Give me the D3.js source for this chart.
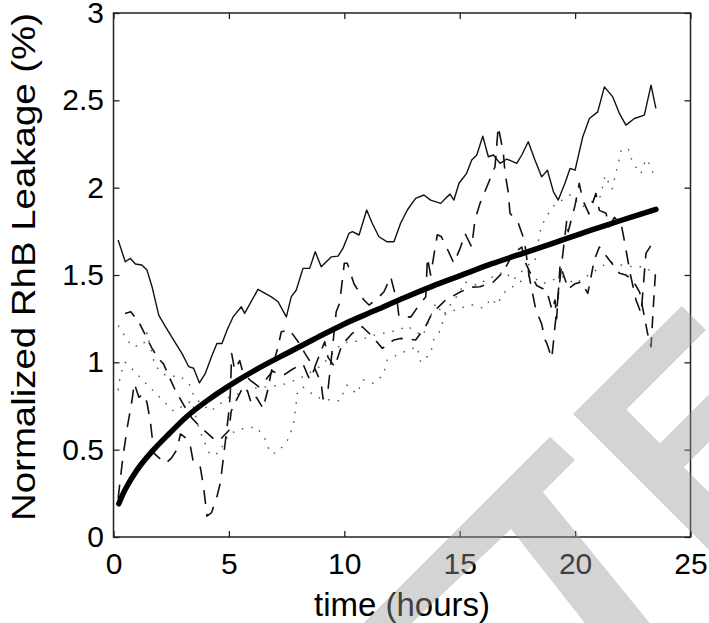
<!DOCTYPE html>
<html>
<head>
<meta charset="utf-8">
<script src="https://cdn.jsdelivr.net/npm/d3@7"></script>
<style>
  body { margin: 0; background: #fff; }
  svg text { font-family: "Liberation Sans", Arial, Helvetica, sans-serif; fill: #000; }
</style>
</head>
<body>
<svg id="chart" width="709" height="623"></svg>
<script>
// time (hours) and leakage (%), one run per array
var solidRun = [[0.2,1.70],[0.51,1.576],[0.73,1.595],[0.95,1.563],[1.23,1.557],[1.45,1.528],[1.67,1.433],[1.96,1.27],[2.25,1.204],[2.6,1.128],[2.97,1.05],[3.26,0.975],[3.47,0.966],[3.72,0.883],[3.98,0.937],[4.27,1.04],[4.48,1.108],[4.7,1.108],[4.92,1.185],[5.18,1.26],[5.54,1.318],[5.68,1.28],[6.26,1.418],[6.84,1.375],[7.13,1.347],[7.49,1.26],[7.7,1.375],[7.92,1.414],[8.21,1.538],[8.5,1.538],[8.74,1.633],[9.0,1.547],[9.44,1.604],[9.73,1.608],[9.94,1.652],[10.2,1.738],[10.35,1.748],[10.64,1.729],[10.97,1.872],[11.21,1.796],[11.5,1.719],[11.86,1.69],[12.15,1.69],[12.44,1.796],[12.73,1.872],[13.09,1.939],[13.45,1.958],[13.74,1.929],[14.18,1.91],[14.39,1.939],[14.58,1.963],[14.75,1.929],[14.97,2.025],[15.3,2.082],[15.52,2.158],[15.74,2.187],[16.0,2.295],[16.24,2.177],[16.46,2.187],[16.75,2.139],[17.04,2.164],[17.47,2.139],[17.69,2.187],[17.97,2.263],[18.26,2.158],[18.55,2.062],[18.8,2.1],[19.06,1.977],[19.27,1.929],[19.56,2.025],[19.78,2.11],[20.0,2.1],[20.33,2.29],[20.62,2.396],[20.98,2.434],[21.27,2.577],[21.63,2.52],[21.92,2.425],[22.2,2.358],[22.57,2.396],[23.0,2.415],[23.29,2.587],[23.5,2.454]];

var dashedRunA = [[0.2,0.22],[0.4,0.45],[0.6,0.63],[0.8,0.78],[0.9,0.88],[1.1,0.8],[1.3,0.82],[1.45,0.77],[1.6,0.66],[1.75,0.48],[2.0,0.45],[2.24,0.42],[2.5,0.45],[2.75,0.5],[2.9,0.59],[3.1,0.57],[3.33,0.52],[3.47,0.42],[3.76,0.4],[3.9,0.29],[4.05,0.12],[4.25,0.14],[4.48,0.23],[4.63,0.31],[4.85,0.55],[5.0,0.72],[5.06,0.82],[5.12,1.05],[5.25,0.956],[5.47,1.01],[5.6,0.946],[5.9,0.9],[6.3,0.86],[6.6,0.9],[6.9,0.95],[7.3,0.92],[7.7,0.956],[8.2,0.994],[8.5,0.9],[8.72,0.966],[9.0,0.88],[9.08,0.79],[9.3,0.85],[9.44,1.023],[9.65,1.29],[9.8,1.34],[10.0,1.567],[10.13,1.567],[10.42,1.45],[10.85,1.357],[11.07,1.328],[11.4,1.36],[11.72,1.404],[12.01,1.49],[12.3,1.338],[12.37,1.26],[12.88,1.26],[13.2,1.32],[13.53,1.375],[13.6,1.6],[13.74,1.5],[14.03,1.73],[14.2,1.72],[14.39,1.67],[14.75,1.567],[15.04,1.66],[15.23,1.738],[15.52,1.66],[15.66,1.815],[15.88,1.91],[16.24,2.025],[16.53,2.12],[16.67,2.35],[16.89,2.2],[16.96,2.09],[17.1,1.977],[17.18,1.853],[17.54,1.796],[17.8,1.7],[18.0,1.5],[18.3,1.3],[18.55,1.22],[18.7,1.128],[18.77,1.11],[18.99,1.023],[19.2,1.3],[19.45,1.6],[19.64,1.815],[19.7,1.748],[20.0,1.9],[20.18,2.025],[20.33,1.93],[20.6,1.85],[20.9,1.967],[21.05,1.87],[21.34,1.853],[21.48,1.776],[21.7,1.83],[21.99,1.796],[22.13,1.7],[22.4,1.5],[22.64,1.357],[22.86,1.28],[23.07,1.624],[23.43,1.7]];

var dashedRunB = [[0.5,1.28],[0.75,1.29],[1.1,1.23],[1.4,1.15],[1.67,1.08],[1.9,1.03],[2.17,0.99],[2.4,0.92],[2.68,0.84],[3.04,0.756],[3.4,0.68],[3.76,0.63],[4.1,0.59],[4.4,0.555],[4.6,0.555],[5.0,0.61],[5.1,0.72],[5.25,0.765],[5.54,0.84],[5.75,0.86],[5.97,0.765],[6.19,0.8],[6.48,0.737],[6.7,0.85],[6.84,0.95],[7.13,1.09],[7.27,1.175],[7.63,1.185],[8.0,1.118],[8.3,1.05],[8.7,0.966],[9.15,1.118],[9.29,1.03],[9.58,0.975],[9.9,1.1],[10.35,1.166],[10.78,1.204],[11.2,1.15],[11.65,1.08],[12.15,1.128],[12.44,1.137],[13.09,1.128],[13.5,1.2],[13.8,1.28],[14.39,1.357],[15.04,1.404],[15.5,1.43],[15.88,1.433],[16.46,1.46],[16.9,1.52],[17.3,1.62],[17.69,1.66],[17.83,1.576],[18.1,1.5],[18.33,1.44],[18.77,1.41],[19.0,1.3],[19.13,1.357],[19.2,1.25],[19.35,1.56],[19.5,1.5],[19.7,1.42],[20.0,1.45],[20.26,1.46],[20.55,1.395],[20.83,1.585],[21.05,1.66],[21.4,1.6],[21.92,1.51],[22.2,1.5],[22.5,1.47],[22.8,1.4],[23.14,1.166],[23.29,1.09],[23.4,1.34],[23.5,1.55]];

var dottedRunA = [[0.2,1.21],[0.8,1.09],[1.3,1.1],[1.45,1.17],[1.8,0.98],[2.3,0.92],[2.9,0.92],[3.3,0.87],[3.5,0.8],[4.2,0.72],[5.0,0.8],[6.0,0.85],[7.3,0.87],[8.1,0.91],[9.0,0.98],[9.9,1.11],[10.5,1.12],[11.3,1.156],[12.4,1.185],[12.7,1.21],[13.4,1.15],[13.96,1.338],[14.3,1.27],[14.6,1.33],[15.0,1.4],[15.2,1.46],[15.8,1.44],[16.1,1.47],[16.96,1.52],[17.3,1.47],[18.05,1.567],[18.26,1.576],[18.48,1.748],[18.7,1.825],[19.1,1.9],[19.8,1.96],[20.3,1.89],[20.6,1.91],[21.1,1.95],[21.3,2.07],[21.6,1.99],[21.85,2.13],[22.0,2.215],[22.3,2.225],[22.5,2.14],[22.85,2.08],[23.07,2.164],[23.3,2.12],[23.45,2.05]];

var dottedRunB = [[0.2,0.84],[0.3,0.93],[0.5,1.0],[0.9,0.95],[1.4,0.88],[2.0,0.8],[2.6,0.72],[3.4,0.78],[3.7,0.62],[4.18,0.47],[4.56,0.48],[5.0,0.59],[5.6,0.62],[6.2,0.63],[6.55,0.565],[6.8,0.48],[7.05,0.48],[7.34,0.52],[7.6,0.565],[7.8,0.65],[7.9,0.74],[7.95,0.82],[8.2,0.86],[8.8,0.8],[9.38,0.784],[9.81,0.78],[10.1,0.87],[10.54,0.82],[10.82,0.9],[11.26,0.88],[11.69,0.927],[11.86,1.013],[12.4,1.05],[13.16,1.09],[13.31,1.0],[13.74,1.05],[13.89,1.137],[14.18,1.185],[14.32,1.27],[14.8,1.3],[15.5,1.33],[16.02,1.31],[16.39,1.366],[16.6,1.328],[16.96,1.404],[17.5,1.45],[18.05,1.5],[18.6,1.45],[19.2,1.48],[19.5,1.49],[20.0,1.45],[20.7,1.51],[21.48,1.576],[22.2,1.55],[22.85,1.547],[23.14,1.538],[23.4,1.5]];

// smooth mean curve (thick line)
var fitCurve = [[0.23,0.19],[0.5,0.27],[1.0,0.38],[1.67,0.49],[2.4,0.59],[3.18,0.69],[4.0,0.775],[5.0,0.865],[6.2,0.96],[7.56,1.055],[8.8,1.14],[10.0,1.22],[11.3,1.295],[12.6,1.37],[13.8,1.435],[15.0,1.495],[16.4,1.565],[17.8,1.627],[19.0,1.68],[20.1,1.73],[21.3,1.783],[22.4,1.83],[23.5,1.876]];

var xTicks = [0, 5, 10, 15, 20, 25];
var yTicks = [0, 0.5, 1, 1.5, 2, 2.5, 3];
var xLabel = "time (hours)";
var yLabel = "Normalized RhB Leakage (%)";

var svg = d3.select("#chart");
var plotLeft = 113.5, plotRight = 690.5, plotTop = 13, plotBottom = 537;

var x = d3.scaleLinear().domain([0, 25]).range([plotLeft, plotRight]);
var y = d3.scaleLinear().domain([0, 3]).range([plotBottom, plotTop]);

svg.append("rect")
   .attr("width", 709)
   .attr("height", 623)
   .attr("fill", "#fff");

var line = d3.line()
             .x(function (d) { return x(d[0]); })
             .y(function (d) { return y(d[1]); });

var plot = svg.append("g");

function drawRun(data, dash, colour, width) {
  plot.append("path")
      .datum(data)
      .attr("d", line)
      .attr("fill", "none")
      .attr("stroke", colour)
      .attr("stroke-width", width)
      .attr("stroke-dasharray", dash)
      .attr("stroke-linejoin", "round");
}

drawRun(dottedRunA, "1.6,8", "#555", 1.4);
drawRun(dottedRunB, "1.6,8", "#555", 1.4);
drawRun(dashedRunB, "12,9", "#111", 1.6);
drawRun(dashedRunA, "14,10", "#111", 1.6);
drawRun(solidRun, null, "#111", 1.4);

plot.append("path")
    .datum(fitCurve)
    .attr("d", d3.line()
                 .x(function (d) { return x(d[0]); })
                 .y(function (d) { return y(d[1]); })
                 .curve(d3.curveCatmullRom.alpha(0.5)))
    .attr("fill", "none")
    .attr("stroke", "#000")
    .attr("stroke-width", 5.5)
    .attr("stroke-linecap", "round");

// axes: MATLAB style box with inward ticks on all four sides
function styleAxis(g) {
  g.select(".domain").remove();
  g.selectAll(".tick line").attr("stroke", "#222").attr("stroke-width", 1.3);
  g.selectAll(".tick text").attr("font-size", 30).attr("fill", "#000")
   .style("font-family", "'Liberation Sans', Arial, sans-serif");
}

svg.append("g")
   .attr("transform", "translate(0," + plotBottom + ")")
   .call(d3.axisBottom(x).tickValues(xTicks).tickFormat(d3.format("d"))
           .tickSizeInner(-6).tickSizeOuter(0).tickPadding(16))
   .call(styleAxis);

svg.append("g")
   .attr("transform", "translate(0," + plotTop + ")")
   .call(d3.axisTop(x).tickValues(xTicks).tickFormat("")
           .tickSizeInner(-6).tickSizeOuter(0))
   .call(styleAxis);

svg.append("g")
   .attr("transform", "translate(" + plotLeft + ",0)")
   .call(d3.axisLeft(y).tickValues(yTicks).tickFormat(d3.format("~g"))
           .tickSizeInner(-6).tickSizeOuter(0).tickPadding(9.5))
   .call(styleAxis);

svg.append("g")
   .attr("transform", "translate(" + plotRight + ",0)")
   .call(d3.axisRight(y).tickValues(yTicks).tickFormat("")
           .tickSizeInner(-6).tickSizeOuter(0))
   .call(styleAxis);

svg.append("rect")
   .attr("x", plotLeft)
   .attr("y", plotTop)
   .attr("width", plotRight - plotLeft)
   .attr("height", plotBottom - plotTop)
   .attr("fill", "none")
   .attr("stroke", "#222")
   .attr("stroke-width", 1.5);

svg.append("text")
   .attr("x", (plotLeft + plotRight) / 2)
   .attr("y", 616)
   .attr("text-anchor", "middle")
   .attr("font-size", 33)
   .text(xLabel);

// the y title is drawn a little stretched along its length, as in the figure
svg.append("text")
   .attr("transform", "translate(35,267) rotate(-90)")
   .attr("text-anchor", "middle")
   .attr("font-size", 34)
   .attr("textLength", 508)
   .attr("lengthAdjust", "spacingAndGlyphs")
   .text(yLabel);

// grey watermark bands laid over the figure
var watermark = [
  [[550,436.7],[575,460],[543,492],[649.7,623],[584.7,623],[511,529],[412,623],[363.7,623]],
  [[681.7,306],[706,330],[626.4,409.6],[660,443.3],[709,394.3],[709,442],[683.9,467.2],[709,492.3],[709,550],[573,414]]
];

svg.append("g")
   .selectAll("polygon")
   .data(watermark)
   .join("polygon")
   .attr("points", function (d) { return d.join(" "); })
   .attr("fill", "#999")
   .attr("fill-opacity", 0.42);
</script>
</body>
</html>
